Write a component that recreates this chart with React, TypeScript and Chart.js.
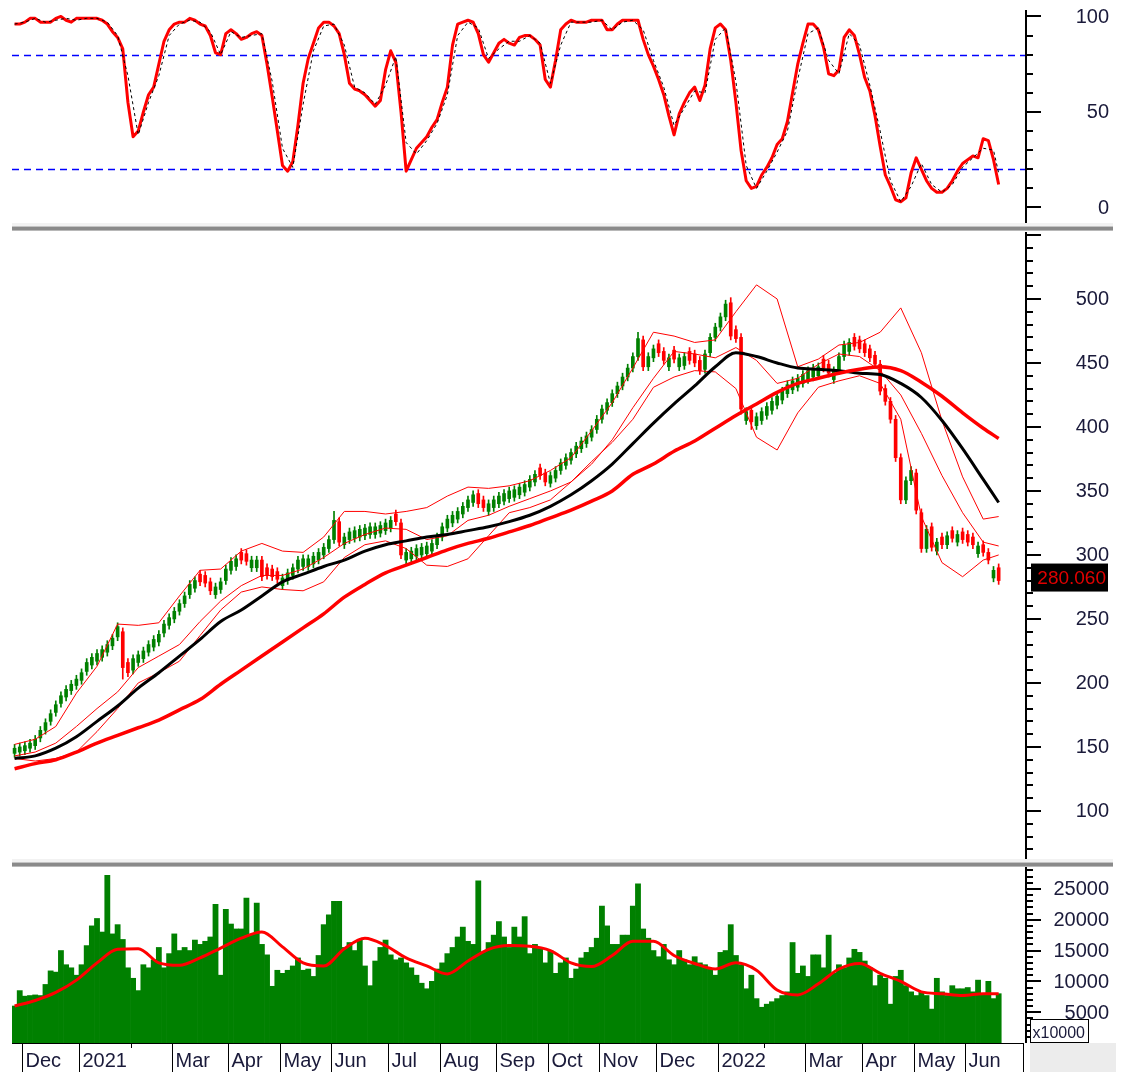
import React, { useEffect, useRef } from "react";
import { Chart, registerables } from "chart.js";

Chart.register(...registerables);

const FONT = '"Liberation Sans", Arial, sans-serif';
const TXT = "#1a1a3a";
const GREEN = "#008000";
const RED = "#ff0000";

// number of bar slots on the time axis (last ones empty)
const SLOTS = 197;

// month boundaries (bar index where the month starts) and their labels
const monthIdx = [2, 13, 23, 31, 42, 52, 62, 73, 83, 94, 104, 114, 125, 137, 146, 154, 165, 175, 185];
const monthLbl = ["Dec", "2021", "", "Mar", "Apr", "May", "Jun", "Jul", "Aug", "Sep", "Oct", "Nov", "Dec", "2022", "", "Mar", "Apr", "May", "Jun"];

// price candles
const openP = [
  145, 146, 147, 149, 151, 157, 163, 170, 177, 184,
  189, 194, 198, 202, 209, 214, 217, 220, 224, 229,
  236, 240, 216, 210, 216, 219, 224, 228, 232, 239,
  245, 250, 256, 262, 269, 274, 285, 284, 279, 269,
  273, 280, 288, 291, 302, 301, 290, 290, 296, 290,
  289, 287, 276, 280, 284, 289, 291, 291, 293, 296,
  300, 305, 312, 326, 308, 312, 313, 314, 315, 316,
  316, 317, 319, 321, 332, 325, 296, 297, 299, 300,
  301, 303, 308, 314, 321, 325, 328, 332, 337, 341,
  348, 343, 334, 337, 340, 342, 344, 345, 347, 349,
  353, 357, 368, 364, 356, 360, 366, 370, 374, 379,
  383, 387, 392, 398, 406, 413, 419, 426, 432, 439,
  446, 455, 468, 447, 454, 465, 459, 447, 460, 447,
  448, 459, 457, 452, 445, 458, 470, 478, 486, 497,
  476, 470, 405, 413, 401, 405, 409, 413, 417, 421,
  426, 429, 431, 434, 437, 439, 440, 453, 449, 437,
  444, 455, 459, 470, 468, 465, 461, 456, 449, 430,
  420, 406, 376, 343, 358, 364, 333, 305, 322, 303,
  314, 308, 319, 310, 318, 316, 314, 301, 308, 302, 282, 290,
];
const highP = [
  152, 153, 154, 156, 159, 166, 172, 179, 186, 193,
  198, 202, 206, 211, 219, 223, 226, 229, 233, 238,
  247, 243, 219, 222, 225, 228, 233, 237, 241, 249,
  254, 259, 265, 271, 280, 283, 288, 287, 282, 278,
  282, 292, 298, 300, 305, 304, 299, 299, 299, 293,
  292, 290, 285, 289, 293, 299, 300, 300, 302, 305,
  309, 315, 334, 329, 317, 321, 322, 323, 324, 325,
  325, 326, 328, 330, 335, 328, 305, 306, 308, 309,
  310, 312, 317, 325, 331, 334, 337, 341, 346, 350,
  351, 346, 343, 346, 349, 351, 353, 354, 356, 358,
  362, 366, 371, 367, 365, 369, 375, 379, 383, 388,
  392, 396, 401, 409, 417, 422, 429, 435, 442, 449,
  458, 474, 471, 458, 464, 468, 462, 457, 463, 457,
  458, 462, 460, 455, 460, 473, 481, 489, 499, 501,
  479, 473, 415, 416, 411, 415, 419, 423, 427, 431,
  436, 439, 441, 444, 447, 449, 450, 456, 452, 447,
  458, 467, 469, 473, 471, 468, 464, 459, 452, 433,
  423, 409, 379, 361, 369, 367, 336, 323, 325, 313,
  317, 318, 322, 319, 321, 319, 317, 310, 311, 305, 291, 293,
];
const lowP = [
  142, 143, 144, 146, 148, 154, 160, 167, 174, 181,
  186, 191, 195, 199, 206, 211, 214, 217, 221, 226,
  233, 203, 205, 207, 213, 216, 221, 225, 229, 236,
  242, 247, 253, 259, 266, 271, 276, 275, 269, 266,
  270, 277, 285, 288, 293, 292, 287, 287, 280, 281,
  280, 278, 273, 277, 281, 286, 288, 288, 290, 293,
  297, 302, 309, 307, 305, 309, 310, 311, 312, 313,
  313, 314, 316, 318, 323, 297, 293, 294, 296, 297,
  298, 300, 305, 311, 318, 322, 325, 329, 334, 338,
  337, 334, 331, 334, 337, 339, 341, 342, 344, 346,
  350, 354, 359, 354, 353, 357, 363, 367, 371, 376,
  380, 384, 389, 395, 403, 410, 416, 423, 429, 436,
  443, 452, 444, 444, 451, 455, 449, 444, 450, 444,
  445, 449, 447, 441, 442, 455, 467, 475, 483, 468,
  466, 410, 402, 398, 398, 402, 406, 410, 414, 418,
  423, 426, 428, 431, 434, 436, 437, 443, 439, 434,
  441, 452, 456, 460, 458, 455, 451, 446, 425, 417,
  403, 373, 340, 340, 355, 332, 302, 302, 303, 300,
  305, 305, 310, 307, 309, 307, 305, 298, 299, 293, 279, 277,
];
const closeP = [
  149, 150, 151, 153, 156, 163, 169, 176, 183, 190,
  195, 199, 203, 208, 216, 220, 223, 226, 230, 235,
  244, 212, 208, 219, 222, 225, 230, 234, 238, 246,
  251, 256, 262, 268, 277, 280, 279, 278, 272, 275,
  279, 289, 295, 297, 296, 295, 296, 296, 283, 284,
  283, 281, 282, 286, 290, 296, 297, 297, 299, 302,
  306, 312, 327, 310, 314, 318, 319, 320, 321, 322,
  322, 323, 325, 327, 326, 300, 302, 303, 305, 306,
  307, 309, 314, 322, 328, 331, 334, 338, 343, 347,
  340, 337, 340, 343, 346, 348, 350, 351, 353, 355,
  359, 363, 362, 357, 362, 366, 372, 376, 380, 385,
  389, 393, 398, 406, 414, 419, 426, 432, 439, 446,
  455, 469, 447, 455, 461, 458, 452, 454, 453, 454,
  455, 452, 450, 444, 457, 470, 478, 486, 496, 471,
  469, 414, 412, 404, 408, 412, 416, 420, 424, 428,
  433, 436, 438, 441, 444, 446, 447, 446, 442, 444,
  455, 464, 466, 463, 461, 458, 454, 449, 428, 420,
  406, 376, 343, 358, 366, 335, 305, 320, 306, 310,
  308, 315, 313, 316, 312, 310, 308, 307, 302, 296, 288, 280,
];
const lastPriceText = "280.060";

// volume (units of 10000)
const volume = [
  6000, 8500, 7600, 7700, 7800, 7700, 9500, 11700, 11500, 15000,
  12700, 12200, 11000, 12700, 15800, 19000, 20200, 18000, 27200, 17700,
  19200, 16800, 12200, 10500, 8500, 12700, 12200, 13500, 15500, 12200,
  14500, 17700, 15000, 15500, 15000, 16700, 16000, 16500, 17200, 22500,
  11000, 21700, 19300, 18500, 18500, 23500, 17500, 22700, 16000, 14300,
  9200, 11800, 11300, 11800, 12500, 13800, 11800, 12000, 10800, 14200,
  19200, 20800, 23000, 23000, 15500, 16300, 15000, 16800, 12500, 9300,
  13300, 15500, 16700, 14300, 13500, 13800, 13000, 12200, 11000, 9700,
  8800, 10000, 12000, 13000, 14500, 15500, 17200, 18800, 16500, 16000,
  26300, 14700, 16300, 17500, 19700, 17200, 15500, 18800, 17200, 20500,
  14500, 16000, 15500, 13000, 15000, 11300, 13000, 13800, 10500, 12000,
  13800, 14700, 15500, 17000, 22200, 19000, 16000, 16000, 17500, 17500,
  22200, 25800, 18500, 17000, 15000, 14000, 16000, 13500, 12700, 15000,
  13500, 12700, 14000, 13000, 12700, 12000, 11000, 14700, 15000, 19200,
  14200, 12700, 8800, 11000, 7200, 5800, 6300, 6700, 7200, 7700,
  8300, 16300, 11300, 12500, 10800, 14300, 14300, 12200, 17500, 11300,
  12700, 12200, 13800, 15200, 14700, 13300, 12200, 9300, 11000, 10500,
  6300, 10800, 11800, 9300, 8300, 7700, 8300, 7700, 5500, 10500,
  8300, 7700, 9300, 8800, 8800, 9000, 8300, 10200, 8000, 10000, 7200, 8000,
];

// stochastic %K (every bar)
const stochK = [
  96, 96, 97, 99, 99, 97, 97, 97, 99, 100,
  98, 97, 99, 99, 99, 99, 99, 98, 96, 92,
  89, 83, 55, 37, 40, 50, 59, 63, 75, 87,
  93, 96, 97, 97, 99, 98, 96, 95, 90, 81,
  80, 91, 93, 91, 88, 89, 91, 92, 90, 75,
  58, 40, 22, 19, 24, 43, 65, 78, 86, 94,
  97, 97, 95, 91, 80, 65, 62, 61, 59, 56,
  53, 56, 72, 82, 76, 50, 19, 25, 31, 34,
  37, 42, 46, 55, 63, 85, 96, 97, 98, 97,
  91, 80, 76, 81, 86, 88, 86, 85, 89, 90,
  90, 88, 85, 67, 63, 77, 93, 96, 98, 97,
  97, 97, 98, 98, 98, 93, 93, 96, 98, 98,
  98, 98, 88, 80, 74, 67, 59, 48, 38, 49,
  55, 60, 63, 56, 64, 83, 94, 96, 93, 77,
  55, 30, 14, 10, 11, 17, 21, 26, 33, 36,
  45, 60, 75, 86, 96, 96, 93, 84, 70, 69,
  72, 89, 93, 90, 80, 68, 61, 48, 32, 17,
  11, 4, 3, 5, 18, 26, 20, 14, 10, 8,
  8, 10, 14, 19, 23, 25, 27, 26, 36, 35, 25, 12,
];
// stochastic %D (every second bar, plus the last one)
const stochD = [
  96, 97, 99, 97, 98, 99, 98, 99, 99, 97,
  90, 69, 38, 55, 69, 90, 96, 98, 97, 92,
  80, 92, 89, 90, 91, 66, 31, 21, 54, 82,
  95, 96, 85, 63, 60, 54, 64, 79, 34, 28,
  35, 44, 59, 90, 97, 94, 78, 83, 87, 87,
  90, 86, 65, 85, 97, 97, 97, 98, 93, 97,
  98, 93, 77, 63, 43, 52, 61, 60, 88, 94,
  66, 22, 10, 19, 29, 40, 67, 91, 94, 77,
  70, 91, 85, 64, 40, 14, 3, 11, 23, 12,
  8, 12, 21, 26, 31, 30, 18,
];
const oscLevels = [20, 80];

// moving averages and bands (every fourth bar, plus the last one)
const maLong = [
  133, 137, 140, 146, 153, 159, 165, 171, 179, 187,
  199, 210, 221, 232, 243, 254, 267, 277, 286, 292,
  298, 304, 309, 313, 318, 323, 329, 335, 342, 350,
  363, 371, 381, 389, 399, 409, 418, 427, 434, 438,
  442, 445, 447, 444, 435, 424, 411, 399, 391,
];
const maMid = [
  141, 143, 149, 158, 170, 182, 196, 208, 221, 234,
  248, 257, 268, 279, 285, 291, 296, 303, 308, 311,
  314, 316, 319, 322, 326, 331, 338, 347, 358, 371,
  387, 403, 418, 432, 447, 458, 455, 450, 446, 445,
  444, 442, 441, 434, 423, 405, 383, 359, 341,
];
const bbUpper = [
  152, 156, 166, 192, 213, 246, 245, 247, 268, 288,
  289, 303, 309, 303, 302, 314, 334, 334, 332, 334,
  337, 346, 353, 352, 354, 358, 366, 376, 397, 419,
  446, 474, 471, 466, 468, 490, 511, 500, 447, 453,
  464, 466, 474, 493, 458, 405, 361, 328, 330,
];
const bbMiddle = [
  143, 146, 153, 166, 180, 193, 212, 221, 230, 248,
  264, 276, 284, 284, 289, 298, 309, 316, 321, 320,
  312, 315, 327, 331, 338, 344, 350, 357, 371, 390,
  415, 438, 459, 457, 454, 462, 452, 434, 438, 449,
  457, 455, 444, 425, 395, 362, 333, 310, 307,
];
const bbLower = [
  141, 139, 141, 146, 162, 180, 200, 208, 217, 237,
  257, 271, 275, 273, 272, 279, 298, 308, 311, 305,
  292, 291, 297, 315, 333, 337, 343, 357, 373, 388,
  406, 431, 439, 444, 443, 430, 392, 382, 411, 431,
  436, 440, 434, 406, 330, 294, 283, 296, 300,
];
const volMA = [
  6000, 6900, 8200, 10200, 13000, 15200, 15300, 13000, 12600, 13800,
  15400, 17000, 18000, 15600, 13000, 12500, 15300, 17000, 15800, 13800,
  12500, 11200, 13300, 15200, 15800, 15700, 15000, 13000, 12400, 14200,
  16500, 16500, 14200, 12900, 12000, 13000, 11800, 8600, 7800, 9600,
  12000, 12900, 11300, 10000, 8300, 8000, 7700, 8000, 8000,
];

const lastBar = closeP.length - 1;
const slotLabels = Array.from({ length: SLOTS }, (_, i) => String(i));
const every4 = Array.from({ length: 48 }, (_, k) => k * 4).concat([lastBar]);
const every2 = Array.from({ length: 96 }, (_, k) => k * 2).concat([lastBar]);

function sparse(idx: number[], vals: number[]) {
  const out: (number | null)[] = new Array(closeP.length).fill(null);
  idx.forEach((p, k) => {
    out[p] = vals[k];
  });
  return out;
}

function baseOptions(min: number, max: number, padBottom: number): any {
  return {
    responsive: false,
    maintainAspectRatio: false,
    animation: false,
    events: [],
    layout: { padding: { left: 12, right: 100, top: 0, bottom: padBottom } },
    plugins: { legend: { display: false }, tooltip: { enabled: false } },
    scales: {
      x: { type: "category", offset: true, display: false },
      y: { type: "linear", min, max, display: false },
    },
  };
}

function rightAxis(o: { from: number; to: number; minor: number; major: number; labelFrom: number; labelTo: number; lineTop?: number }) {
  return {
    id: "rightAxis",
    afterDraw(chart: any) {
      const { ctx, chartArea } = chart;
      const y = chart.scales.y;
      const ax = chartArea.right - 1;
      ctx.save();
      ctx.strokeStyle = "#000";
      ctx.lineWidth = 2;
      ctx.beginPath();
      ctx.moveTo(ax, o.lineTop ?? chartArea.top);
      ctx.lineTo(ax, chartArea.bottom);
      ctx.stroke();
      for (let v = o.from; v <= o.to; v += o.minor) {
        const py = Math.round(y.getPixelForValue(v));
        const major = v % o.major === 0;
        ctx.beginPath();
        ctx.moveTo(ax, py);
        ctx.lineTo(ax + (major ? 15 : 7), py);
        ctx.stroke();
      }
      ctx.font = `20px ${FONT}`;
      ctx.fillStyle = TXT;
      ctx.textAlign = "right";
      ctx.textBaseline = "middle";
      for (let v = o.labelFrom; v <= o.labelTo; v += o.major) {
        ctx.fillText(String(v), chartArea.right + 82, y.getPixelForValue(v) + 1);
      }
      ctx.restore();
    },
  };
}

const oscGuides = {
  id: "oscGuides",
  beforeDatasetsDraw(chart: any) {
    const { ctx, chartArea } = chart;
    const y = chart.scales.y;
    ctx.save();
    ctx.strokeStyle = "#0000ff";
    ctx.lineWidth = 1.5;
    ctx.setLineDash([7, 5]);
    oscLevels.forEach((lv) => {
      const py = Math.round(y.getPixelForValue(lv)) + 0.5;
      ctx.beginPath();
      ctx.moveTo(chartArea.left, py);
      ctx.lineTo(chartArea.right - 1, py);
      ctx.stroke();
    });
    ctx.restore();
  },
};

const priceTag = {
  id: "priceTag",
  afterDraw(chart: any) {
    const { ctx, chartArea } = chart;
    const py = chart.scales.y.getPixelForValue(closeP[lastBar]) - 3;
    ctx.save();
    ctx.fillStyle = "#000";
    ctx.fillRect(chartArea.right + 4, py - 14, 77, 28);
    ctx.fillStyle = "#e00000";
    ctx.font = `19px ${FONT}`;
    ctx.textAlign = "right";
    ctx.textBaseline = "middle";
    ctx.fillText(lastPriceText, chartArea.right + 79, py + 1);
    ctx.restore();
  },
};

const timeRow = {
  id: "timeRow",
  afterDraw(chart: any) {
    const { ctx, chartArea } = chart;
    const x = chart.scales.x;
    const slotW = x.width / SLOTS;
    const top = chartArea.bottom;
    const bottom = chart.height;
    ctx.save();
    ctx.fillStyle = "#ececec";
    ctx.fillRect(chartArea.right + 3, top, 86, bottom - top);
    ctx.strokeStyle = "#000";
    ctx.lineWidth = 1;
    ctx.beginPath();
    ctx.moveTo(chartArea.left, top + 0.5);
    ctx.lineTo(chartArea.right - 3, top + 0.5);
    ctx.stroke();
    ctx.font = `20px ${FONT}`;
    ctx.fillStyle = TXT;
    ctx.textAlign = "left";
    ctx.textBaseline = "alphabetic";
    monthIdx.forEach((idx, k) => {
      const px = Math.round(x.getPixelForValue(idx) - slotW / 2) + 0.5;
      const lbl = monthLbl[k];
      ctx.beginPath();
      ctx.moveTo(px, top);
      ctx.lineTo(px, lbl ? bottom : top + 5);
      ctx.stroke();
      if (lbl) ctx.fillText(lbl, px + 3, bottom - 5);
    });
    const rx = Math.round(chartArea.right - 4) + 0.5;
    ctx.beginPath();
    ctx.moveTo(rx, top);
    ctx.lineTo(rx, bottom);
    ctx.stroke();
    // unit box
    const bx = Math.round(chartArea.right + 3) + 0.5;
    const by = Math.round(top - 24) + 0.5;
    ctx.fillStyle = "#fff";
    ctx.fillRect(bx, by, 58, 23);
    ctx.strokeRect(bx, by, 58, 23);
    ctx.fillStyle = TXT;
    ctx.font = `16px ${FONT}`;
    ctx.fillText("x10000", bx + 2, by + 18);
    ctx.restore();
  },
};

const sepStyle = (top: number): React.CSSProperties => ({
  position: "absolute",
  left: 12,
  top,
  width: 1101,
  height: 8,
  background:
    "linear-gradient(#f2f2f2 0px, #f2f2f2 3px, #c4c4c4 3px, #c4c4c4 4px, #8a8a8a 4px, #8a8a8a 7px, #b8b8b8 7px, #b8b8b8 8px)",
  zIndex: 5,
});

export default function App() {
  const oscRef = useRef<HTMLCanvasElement | null>(null);
  const priceRef = useRef<HTMLCanvasElement | null>(null);
  const volRef = useRef<HTMLCanvasElement | null>(null);

  useEffect(() => {
    const line = (data: any[], color: string, width: number, order: number, extra: any = {}) => ({
      type: "line",
      data,
      borderColor: color,
      borderWidth: width,
      pointRadius: 0,
      spanGaps: true,
      tension: 0,
      borderJoinStyle: "round",
      order,
      ...extra,
    });
    const smooth = { cubicInterpolationMode: "monotone" };

    const osc = new Chart(oscRef.current as HTMLCanvasElement, {
      type: "line",
      data: {
        labels: slotLabels,
        datasets: [
          line(stochK, RED, 3, 2) as any,
          line(sparse(every2, stochD), "#000", 1, 1, { borderDash: [3, 3] }) as any,
        ],
      },
      options: baseOptions(-9.7, 108.6, 0),
      plugins: [oscGuides, rightAxis({ from: 0, to: 100, minor: 10, major: 50, labelFrom: 0, labelTo: 100, lineTop: 10 })],
    } as any);

    const candleColor = closeP.map((c, i) => (c >= openP[i] ? GREEN : RED));
    const price = new Chart(priceRef.current as HTMLCanvasElement, {
      type: "bar",
      data: {
        labels: slotLabels,
        datasets: [
          line(sparse(every4, bbUpper), RED, 1, 4) as any,
          line(sparse(every4, bbMiddle), RED, 1, 4) as any,
          line(sparse(every4, bbLower), RED, 1, 4) as any,
          line(sparse(every4, maMid), "#000", 3, 3, smooth) as any,
          line(sparse(every4, maLong), RED, 3.5, 2, smooth) as any,
          {
            type: "bar",
            data: lowP.map((l, i) => [l, highP[i]]),
            backgroundColor: candleColor,
            barThickness: 1,
            grouped: false,
            order: 11,
          },
          {
            type: "bar",
            data: openP.map((o, i) => [o, closeP[i]]),
            backgroundColor: candleColor,
            barThickness: 3,
            grouped: false,
            order: 10,
          },
        ],
      },
      options: baseOptions(60.9, 552.3, 0),
      plugins: [rightAxis({ from: 70, to: 550, minor: 10, major: 50, labelFrom: 100, labelTo: 500 }), priceTag],
    } as any);

    const vol = new Chart(volRef.current as HTMLCanvasElement, {
      type: "bar",
      data: {
        labels: slotLabels,
        datasets: [
          line(sparse(every4, volMA), RED, 3, 1, smooth) as any,
          {
            type: "bar",
            data: volume,
            backgroundColor: GREEN,
            barPercentage: 1,
            categoryPercentage: 1,
            grouped: false,
            order: 5,
          },
        ],
      },
      options: baseOptions(0, 28550, 29),
      plugins: [rightAxis({ from: 1000, to: 28000, minor: 1000, major: 5000, labelFrom: 5000, labelTo: 25000 }), timeRow],
    } as any);

    return () => {
      osc.destroy();
      price.destroy();
      vol.destroy();
    };
  }, []);

  const cv = (top: number, height: number): React.CSSProperties => ({
    position: "absolute",
    left: 0,
    top,
    width: 1127,
    height,
    display: "block",
  });

  return (
    <div style={{ position: "fixed", left: 0, top: 0, width: 1127, height: 1072, background: "#fff", overflow: "hidden" }}>
      <canvas ref={oscRef} width={1127} height={226} style={cv(0, 226)} />
      <canvas ref={priceRef} width={1127} height={629} style={cv(232, 629)} />
      <canvas ref={volRef} width={1127} height={205} style={cv(867, 205)} />
      <div style={sepStyle(223)} />
      <div style={sepStyle(859)} />
    </div>
  );
}
